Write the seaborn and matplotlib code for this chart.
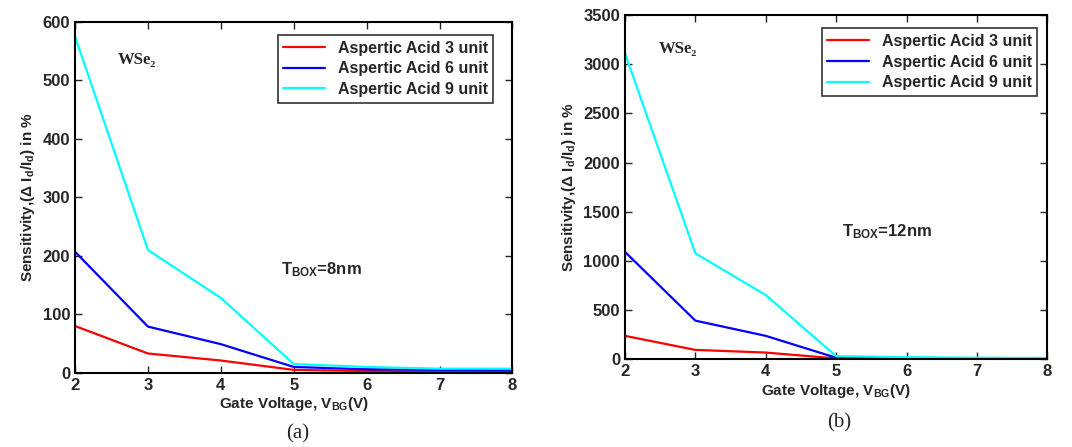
import matplotlib
matplotlib.use("Agg")
import matplotlib.pyplot as plt
import seaborn as sns
import pandas as pd

# donnees
volts = [2, 3, 4, 5, 6, 7, 8]
series_names = ["Aspertic Acid 3 unit", "Aspertic Acid 6 unit", "Aspertic Acid 9 unit"]

# (a) T_BOX = 8nm
sens_8nm_3 = [80, 33, 21, 5, 3, 2, 1.5]
sens_8nm_6 = [207, 79, 49, 10, 6, 5, 4]
sens_8nm_9 = [575, 210, 128, 15, 10, 7, 7]

# (b) T_BOX = 12nm
sens_12nm_3 = [235, 92, 65, 5, 3, 2, 2]
sens_12nm_6 = [1090, 390, 235, 12, 8, 6, 5]
sens_12nm_9 = [3110, 1075, 650, 28, 18, 12, 10]

colors = ["#ff0000", "#0000ff", "#00ffff"]

sns.set_style("ticks")
plt.rcParams['font.family'] = ['Liberation Sans', 'DejaVu Sans']
plt.rcParams['font.weight'] = 'bold'
plt.rcParams['axes.labelweight'] = 'bold'
plt.rcParams['mathtext.fontset'] = 'custom'
plt.rcParams['mathtext.rm'] = 'Liberation Sans:bold'
plt.rcParams['mathtext.bf'] = 'Liberation Sans:bold'
plt.rcParams['mathtext.it'] = 'Liberation Sans:bold'
plt.rcParams['mathtext.default'] = 'rm'


def make_df(s3, s6, s9):
    rows = []
    for name, vals in zip(series_names, [s3, s6, s9]):
        for v, s in zip(volts, vals):
            rows.append({"V": v, "S": s, "serie": name})
    return pd.DataFrame(rows)


fig = plt.figure(figsize=(10.72, 4.47), dpi=100)
ax1 = fig.add_axes([0.070, 0.166, 0.408, 0.785])
ax2 = fig.add_axes([0.583, 0.197, 0.394, 0.769])


def draw(ax, df, ymax, ystep, wse_pos, tbox_pos, tbox_txt, leg_anchor):
    sns.lineplot(data=df, x="V", y="S", hue="serie", palette=colors,
                 linewidth=1.6, ax=ax, legend=True)
    ax.set_xlim(2, 8)
    ax.set_ylim(0, ymax)
    ax.set_yticks(range(0, ymax + 1, ystep))
    ax.set_xticks(volts)
    ax.tick_params(direction='in', top=True, right=True, length=5, width=1,
                   labelsize=12)
    for lab in ax.get_xticklabels() + ax.get_yticklabels():
        lab.set_fontweight('bold')
    for sp in ax.spines.values():
        sp.set_linewidth(1.5)
        sp.set_color('black')
    ax.set_xlabel("Gate Voltage, V$_{BG}$(V)", fontsize=11, labelpad=2)
    ax.set_ylabel("Sensitivity,($\\Delta$ I$_d$/I$_d$) in %", fontsize=11, labelpad=4)
    leg = ax.legend(loc='upper right', bbox_to_anchor=leg_anchor, fontsize=11.5,
                    frameon=True, fancybox=False, handlelength=2.6,
                    borderpad=0.35, labelspacing=0.35)
    leg.get_frame().set_edgecolor('black')
    leg.get_frame().set_linewidth(1.2)
    for t in leg.get_texts():
        t.set_fontweight('bold')
    ax.text(wse_pos[0], wse_pos[1], "WSe\u2082", fontsize=12,
            family=['Liberation Serif', 'DejaVu Serif'], fontweight='bold',
            ha='left', va='center')
    ax.text(tbox_pos[0], tbox_pos[1], tbox_txt, fontsize=12, fontweight='bold',
            ha='left', va='center')


draw(ax1, make_df(sens_8nm_3, sens_8nm_6, sens_8nm_9), 600, 100,
     (2.58, 535), (4.82, 176), "T$_{BOX}$=8nm", (0.975, 0.985))
draw(ax2, make_df(sens_12nm_3, sens_12nm_6, sens_12nm_9), 3500, 500,
     (2.48, 3160), (5.09, 1292), "T$_{BOX}$=12nm", (0.995, 0.985))

fig.text(0.278, 0.03, "(a)", fontsize=15, family=['Liberation Serif'],
         fontweight='normal', ha='center', va='center')
fig.text(0.783, 0.053, "(b)", fontsize=15, family=['Liberation Serif'],
         fontweight='normal', ha='center', va='center')

fig.savefig("out.png", dpi=100)
